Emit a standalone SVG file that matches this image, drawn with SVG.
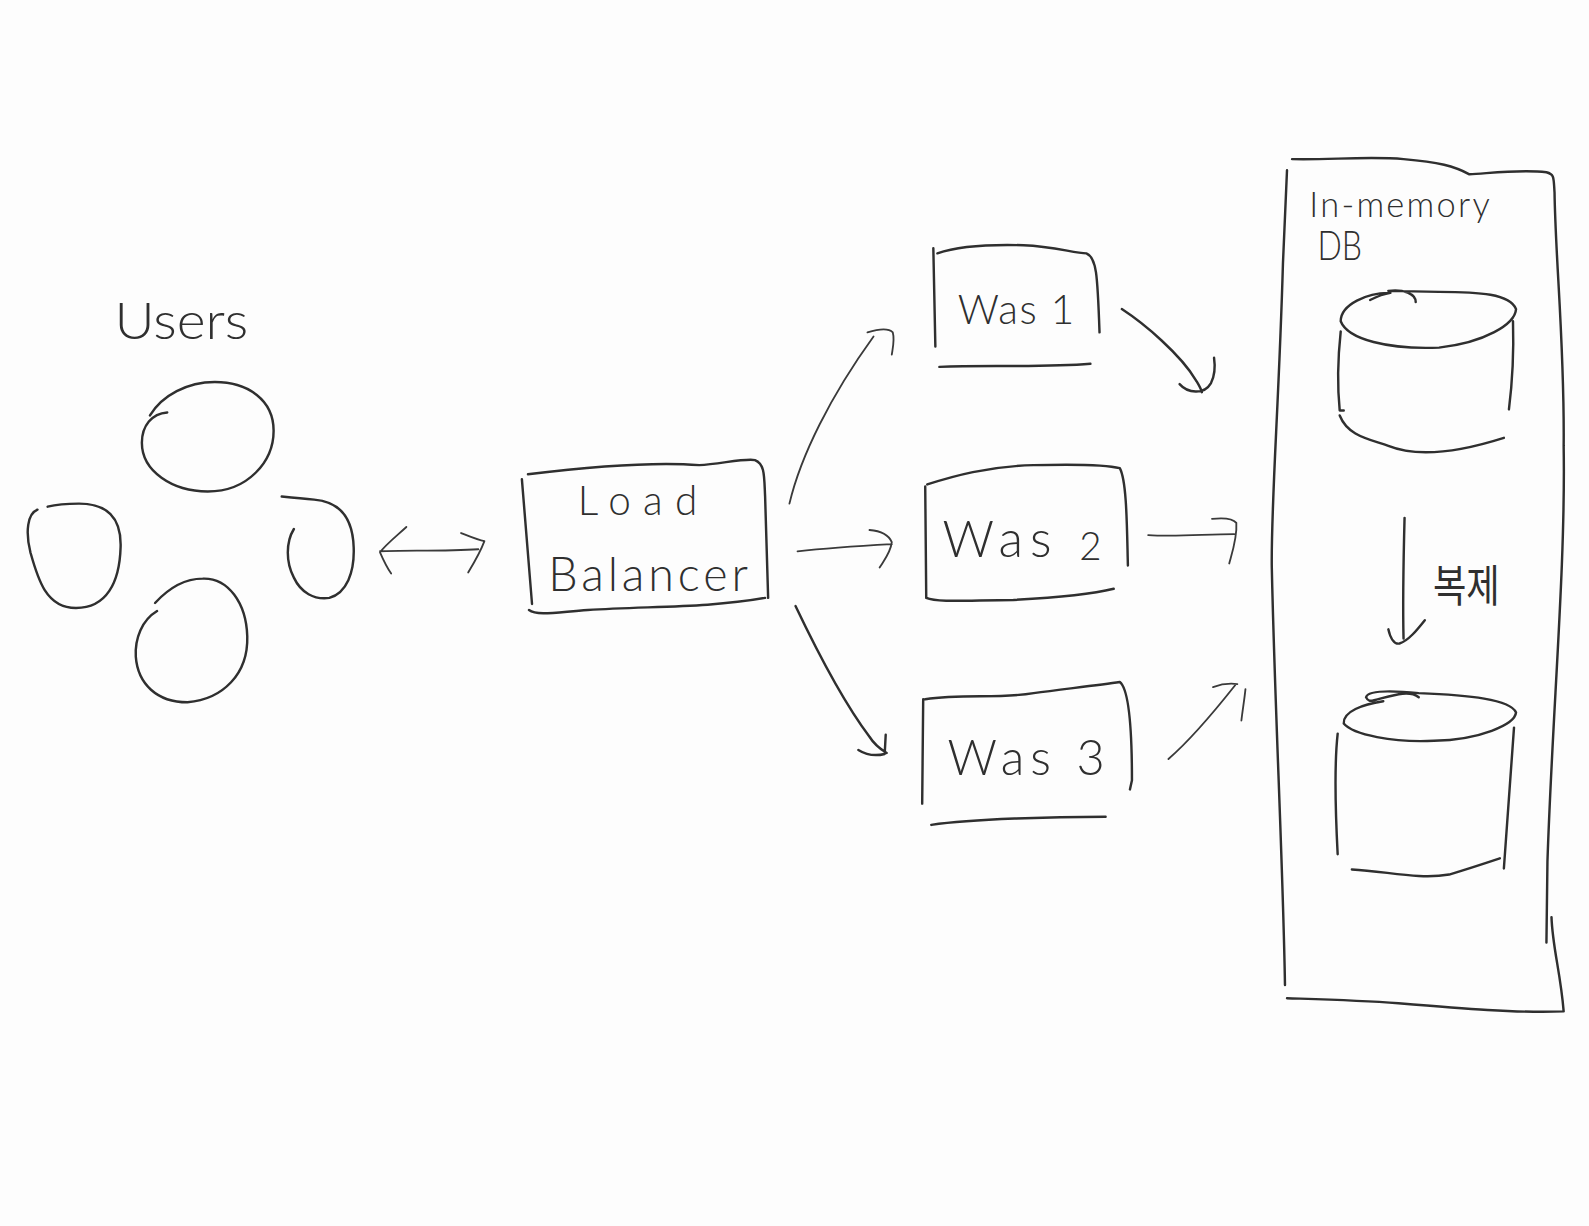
<svg xmlns="http://www.w3.org/2000/svg" width="1589" height="1226" viewBox="0 0 1589 1226">
<style>
.s{fill:none;stroke:#2f2f2f;stroke-width:2.4;stroke-linecap:round;stroke-linejoin:round}
.c{fill:none;stroke:#3a3a3a;stroke-width:1.8;stroke-linecap:round;stroke-linejoin:round}
.t{font-family:"Lato","Liberation Sans",sans-serif;font-weight:300;fill:#2f2f2f}
.k{font-family:"Noto Sans CJK KR","Noto Sans",sans-serif;font-weight:400;fill:#2f2f2f}
</style>
<rect width="1589" height="1226" fill="#fdfdfd"/>
<g transform="scale(1.01339)">
<g id="users">
<text class="t" x="113" y="335" font-size="50" textLength="132" lengthAdjust="spacingAndGlyphs">Users</text>
<path class="s" d="M165 407C150 408 140 420 140 437C140 465 170 485 205 485C245 485 270 455 270 425C270 395 245 377 212 377C185 377 160 390 148 410"/>
<path class="s" d="M37 503C27 507 25 525 30 545C37 570 45 600 75 600C105 600 118 575 119 540C120 510 105 497 78 497C65 497 55 498 47 500"/>
<path class="s" d="M290 522C282 535 282 555 290 570C297 585 310 592 325 590C342 585 350 565 349 540C348 510 335 495 310 493C298 492 288 491 278 490"/>
<path class="s" d="M155 603C140 612 133 630 134 648C136 675 155 693 185 693C220 690 245 665 244 628C243 595 225 570 200 571C180 571 165 582 153 595"/>
</g>
<g id="load-balancer">
<path class="s" d="M515 473L525 596M521 468C570 462 640 455 690 459C710 458 735 452 745 454C755 458 754 470 755 490L758 590M522 602C530 608 550 604 580 602C640 598 700 600 755 590"/>
<text class="t" x="570" y="508" font-size="40" textLength="118">Load</text>
<text class="t" x="541" y="583" font-size="46" textLength="197">Balancer</text>
</g>
<g id="was1">
<path class="s" d="M921 245L923 342M925 250C945 243 975 241 1010 242C1040 243 1060 250 1072 250C1082 254 1083 270 1085 328M927 362C975 360 1030 363 1076 359"/>
<text class="t" x="945" y="320" font-size="40" textLength="115">Was 1</text>
</g>
<g id="was2">
<path class="s" d="M913 480L914 590C925 595 960 592 1000 592C1040 590 1075 587 1099 581M915 478C940 470 975 460 1020 459C1060 458 1090 458 1105 462C1112 475 1112 520 1113 558"/>
<text class="t" x="930" y="550" font-size="50" textLength="157">Was <tspan font-size="38" dy="3">2</tspan></text>
</g>
<g id="was3">
<path class="s" d="M911 690L910 793M913 690C950 684 985 690 1020 684C1050 680 1085 676 1105 673C1114 680 1117 720 1117 770L1115 779M919 814C960 808 1040 806 1091 806"/>
<text class="t" x="935" y="765" font-size="48" textLength="155">Was 3</text>
</g>
<g id="in-memory-db">
<path class="s" d="M1270 168L1266 260C1262 400 1254 500 1255 560C1258 700 1266 850 1268 972M1275 157C1310 158 1350 154 1385 157C1420 160 1435 164 1450 172C1470 171 1500 167 1526 170C1534 172 1533 175 1534 190C1535 260 1544 340 1543 440C1545 560 1532 700 1527 850L1526 930M1531 905C1532 935 1540 960 1543 998C1500 1000 1440 995 1380 990C1340 987 1300 986 1270 985"/>
<text class="t" x="1292" y="214" font-size="34" textLength="178" lengthAdjust="spacing">In-memory</text>
<text class="t" x="1300" y="257" font-size="40" textLength="44" lengthAdjust="spacingAndGlyphs">DB</text>
</g>
<g id="db-primary">
<path class="s" d="M1370 289C1350 289 1323 300 1323 317C1330 335 1370 345 1420 343C1465 338 1495 320 1496 305C1490 290 1460 288 1420 288L1370 287C1385 285 1397 290 1397 298M1372 289C1365 290 1358 293 1352 296"/>
<path class="s" d="M1323 327C1320 355 1320 385 1322 405L1326 405M1493 317C1494 350 1492 380 1489 404M1322 410C1330 430 1350 433 1370 440C1400 452 1440 446 1484 432"/>
</g>
<g id="db-replica">
<path class="s" d="M1365 692C1345 695 1325 702 1326 714C1335 725 1375 733 1415 731C1460 730 1495 715 1496 703C1490 690 1450 686 1400 684C1380 682 1350 680 1348 688C1350 692 1352 692 1356 691C1372 687 1390 680 1400 688"/>
<path class="s" d="M1320 724C1316 760 1318 805 1320 843M1494 718C1490 770 1487 815 1484 857M1334 858C1370 860 1400 868 1430 863C1450 857 1465 852 1480 847"/>
</g>
<g id="connectors">
<path class="c" d="M375 544C400 543 440 544 472 542M401 520C390 530 380 538 375 545C378 552 382 560 386 566M455 526C465 530 472 533 478 534C474 545 468 555 462 565"/>
<path class="c" d="M779 497C790 450 820 390 862 332M856 328C866 325 876 323 881 328C883 335 881 343 880 350"/>
<path class="c" d="M787 544C815 541 845 539 880 537M858 523C870 524 877 528 880 535C879 545 873 552 868 560"/>
<path class="s" d="M785 598C805 640 830 690 858 727C863 735 870 740 875 743M847 740C855 745 865 746 873 744L874 725"/>
<path class="s" d="M1107 305C1130 320 1165 350 1180 375C1183 380 1185 383 1186 387M1164 379C1172 388 1188 390 1195 378C1199 370 1199 360 1198 353"/>
<path class="c" d="M1133 528C1160 530 1190 527 1218 527M1196 512C1205 511 1216 511 1220 516C1221 530 1216 545 1213 556"/>
<path class="c" d="M1153 749C1175 730 1200 700 1219 676M1197 678C1205 675 1213 674 1221 675M1229 680C1228 690 1226 702 1225 711"/>
<path class="s" d="M1386 511C1385 550 1384 590 1385 630M1370 621C1372 630 1376 636 1381 635C1390 632 1398 622 1406 612"/>
<text class="k" x="1414" y="594" font-size="44" textLength="66" lengthAdjust="spacingAndGlyphs">복제</text>
</g>
</g>
</svg>
